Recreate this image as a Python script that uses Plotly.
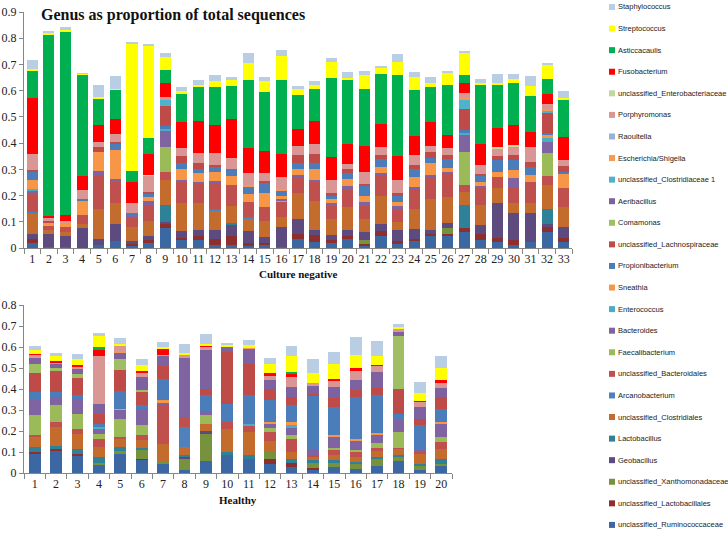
import plotly.graph_objects as go

# ---------------- categories ----------------
cn_labels = [str(i) for i in range(1, 34)]
h_labels = [str(i) for i in range(1, 21)]

# series names (bottom of stack first)
series_names = [
    "unclassified_Ruminococcaceae", "unclassified_Lactobacillales", "unclassified_Xanthomonadaceae",
    "Geobacillus", "Lactobacillus", "unclassified_Clostridiales", "Arcanobacterium",
    "unclassified_Bacteroidales", "Faecalibacterium", "Bacteroides", "Enterococcus", "Sneathia",
    "Propionibacterium", "unclassified_Lachnospiraceae", "Comamonas", "Aeribacillus",
    "unclassified_Clostridiaceae 1", "Escherichia/Shigella", "Raoultella", "Porphyromonas",
    "unclassified_Enterobacteriaceae", "Fusobacterium", "Asticcacaulis", "Streptococcus",
    "Staphylococcus",
]

series_colors = [
    "#3B67A3", "#8E2F2E", "#76923C", "#5D4A7E", "#2F8197", "#C46C2E", "#4F81BD",
    "#C0504D", "#9BBB59", "#8064A2", "#4BACC6", "#F79646", "#4A7DBA", "#BE4B48",
    "#A0BE63", "#7E62A0", "#4FB2CC", "#F59A55", "#95B3D7", "#D99694", "#C3D69B",
    "#FF0000", "#00B050", "#FFFF00", "#B9CDE5",
]

# ---------------- Culture negative (33 samples) ----------------
cn_ruminococcaceae = [.02, .005, .005, 0, .012, .028, .008, .02, .078, .03, .03, .01, .012, .008, .01, .005, .036, .023, .019, .035, .01, .045, .015, .025, .045, .045, .06, .03, .024, .01, .024, .061, .024]
cn_lactobacillales = [.013, 0, 0, 0, 0, 0, .008, .01, .012, .01, .015, .026, .033, .012, .01, 0, .019, .027, .013, .01, .005, .02, .01, .01, .01, .01, .015, .025, .013, .02, 0, .019, .013]
cn_xanthomonadaceae = [0]*20 + [.015] + [0]*4 + [.02] + [0]*7
cn_geobacillus = [.022, .05, .04, .077, .023, .065, .012, .015, .01, .025, .023, .034, .045, .045, .022, .075, .055, .02, .016, .025, .03, .025, .043, .039, .015, .02, 0, .032, .134, .105, .111, .013, .044]
cn_lactobacillus = [0]*8 + [.065] + [0]*3 + [.005] + [0]*13 + [.088] + [0]*4 + [.054, 0]
cn_clostridiales = [.077, .015, .015, .013, .115, .077, .052, .058, .095, .105, .102, .074, .065, .047, .06, .04, .1, .11, .064, .085, .05, .11, .032, .076, .115, .1, .052, .076, .057, .036, .036, .093, .077]
cn_arcanobacterium = [.005] + [0]*10 + [.006, 0, .005] + [0]*19
cn_bacteroidales = [.07, .015, .02, .035, .125, .08, .035, .062, .03, .08, .075, .096, .08, .058, .055, .058, .06, .073, .05, .065, .05, .08, .047, .075, .085, .089, .025, .064, .044, .057, .082, .034, .07]
cn_faecalibacterium = [0]*8 + [.095] + [0]*6 + [.004] + [0]*10 + [.125] + [0]*4 + [.09, 0]
cn_bacteroides = [.013, 0, 0, 0, .017, .012, .008, .013, .06, .01, .005, .009, 0, 0, 0, .005, .01, .007, .008, .015, .015, .005, .013, .008, .008, .006, .065, .01, 0, .038, 0, .042, 0]
cn_enterococcus = [.005] + [0]*7 + [.01] + [0]*17 + [.01] + [0]*4 + [.012, 0]
cn_sneathia = [.035, .01, .01, .055, .073, .11, 0, .02, 0, .04, .035, .035, .035, .03, .053, .013, .02, .04, .015, .03, .025, .025, .015, .039, .045, .015, 0, .013, .019, .031, .026, .013, .057]
cn_propionibacterium = [.03, 0, 0, .005, 0, .023, .01, .007, .01, .025, .015, .02, .025, .028, .036, .02, .025, .025, .015, .02, .035, .03, .025, .03, .019, .033, .01, .025, .045, .039, .031, .009, .005]
cn_lachnospiraceae = [.008, .008, 0, 0, .02, .01, 0, .008, .075, .025, .023, .005, 0, 0, .008, 0, .03, .035, .01, .015, .01, .015, .01, .014, .025, .017, .08, .009, .013, .019, .019, .074, .024]
cn_comamonas = [0]*33
cn_aeribacillus = [0]*33
cn_clostridiaceae1 = [0]*8 + [.025] + [0]*17 + [.036] + [0]*4 + [.012, 0]
cn_escherichia = [0]*13 + [.007, 0, .005] + [0]*10 + [.009] + [0]*4 + [.004, 0]
cn_raoultella = [0]*33
cn_porphyromonas = [.059, .01, .012, .035, .02, .03, .037, .065, .01, .03, .038, .049, .045, .047, .033, .047, .034, .035, .049, .02, .045, .03, .048, .039, .023, .025, .015, .032, .031, .032, .058, .02, .022]
cn_enterobacteriaceae = [0]*7 + [.002] + [0]*20 + [.007, .007] + [0]*3
cn_fusobacterium = [.216, .01, .024, .054, .065, .058, .083, .08, .055, .1, .125, .106, .148, .093, .083, .088, .066, .091, .089, .077, .1, .088, .092, .072, .09, .05, .038, .079, .07, .076, .057, .038, .089]
cn_asticcacaulis = [.105, .693, .7, .386, .102, .112, .042, .06, .048, .108, .129, .144, .125, .261, .225, .28, .127, .119, .3, .243, .216, .192, .31, .176, .135, .19, .032, .229, .165, .16, .134, .057, .14]
cn_streptococcus = [.004, .003, .006, .004, .002, .002, .485, .35, .05, .012, .005, .024, .022, .064, .04, .092, .026, .015, .06, .01, .052, .025, .05, .049, .015, .048, .085, .006, .009, .016, .038, .054, .006]
cn_staphylococcus = [.035, .009, .01, .003, .046, .048, .004, .008, .014, .015, .019, .023, .012, .037, .017, .023, .01, .018, .017, .022, .017, .005, .028, .02, .021, .007, .005, .015, .033, .016, .04, .006, .026]

# ---------------- Healthy (20 samples) ----------------
h_ruminococcaceae = [.092, .108, .084, .041, .095, .064, .045, .013, .056, .084, .068, .045, .029, .016, .029, .021, .032, .056, .016, .032]
h_lactobacillales = [.008, .005, .008, 0, 0, .005, 0, 0, 0, 0, 0, .023, .02, .008, 0, 0, 0, 0, 0, 0]
h_xanthomonadaceae = [0, 0, 0, .008, .008, .039, .01, .055, .132, 0, 0, .032, 0, .028, .023, .024, .036, .02, .021, .013]
h_geobacillus = [0, 0, 0, 0, 0, 0, 0, .012, .011, 0, 0, 0, 0, 0, 0, 0, 0, 0, 0, 0]
h_lactobacillus = [.024, .017, .024, .025, .022, .012, 0, .008, 0, .016, .019, 0, .019, .008, .008, .008, .008, .011, .008, .023]
h_clostridiales = [.048, .09, .072, .05, .04, .036, .085, .035, .036, .111, .109, .051, .032, .016, .024, .023, .027, .029, .05, .048]
h_arcanobacterium = [0, 0, 0, 0, 0, 0, 0, .097, 0, 0, 0, 0, 0, 0, 0, 0, 0, 0, 0, 0]
h_bacteroidales = [.008, .023, .023, .04, .007, .024, .183, .04, 0, .032, .031, .045, .064, .01, .024, .024, .016, .005, .005, .032]
h_faecalibacterium = [.095, .08, .072, .024, .083, .047, 0, 0, .04, 0, 0, .016, .016, 0, .012, .008, .025, .075, 0, .024]
h_bacteroides = [.072, .04, .064, .022, .045, .08, .015, .29, .019, 0, 0, .023, .039, .03, .052, .048, .036, .055, .008, .059]
h_enterococcus = [0, 0, 0, .01, 0, 0, 0, 0, 0, 0, .008, 0, .008, 0, 0, 0, 0, 0, 0, 0]
h_sneathia = [0, 0, 0, 0, .005, 0, .008, 0, 0, 0, 0, .008, .016, 0, .008, .008, .01, 0, 0, .012]
h_propionibacterium = [.039, .023, .023, .012, .087, .016, .104, 0, .076, .087, .135, .104, .083, .254, .135, .198, .18, .032, .122, .061]
h_lachnospiraceae = [.088, .104, .082, .05, .098, .067, .06, 0, .032, .247, .151, .055, .036, .008, .04, .032, .035, .116, .029, .058]
h_comamonas = [.047, .008, .018, 0, .055, .005, 0, 0, 0, 0, 0, 0, 0, 0, 0, 0, 0, .254, 0, 0]
h_aeribacillus = [.027, .022, .025, .048, .03, .063, .048, 0, .183, .023, .072, .04, .048, .04, .055, .048, .074, .023, .053, .043]
h_clostridiaceae1 = [0]*20
h_escherichia = [.005, 0, 0, 0, .004, 0, .005, 0, 0, 0, .004, 0, 0, .005, 0, 0, 0, 0, 0, 0]
h_raoultella = [0]*20
h_porphyromonas = [.01, .008, .01, .228, .025, .021, 0, .012, .016, 0, 0, .024, .048, .006, .032, .043, .031, .008, .027, .024]
h_enterobacteriaceae = [0]*20
h_fusobacterium = [.003, .005, .007, .032, 0, .007, .03, 0, .005, 0, 0, .008, .016, 0, .008, .016, .005, 0, .005, .016]
h_asticcacaulis = [0, 0, 0, .009, 0, 0, 0, 0, 0, 0, 0, 0, .008, 0, 0, 0, 0, 0, 0, 0]
h_streptococcus = [.018, .025, .03, .052, .012, .027, .005, .008, .008, .008, .012, .047, .074, .045, .071, .06, .043, .012, .039, .053]
h_staphylococcus = [.02, .014, .025, .016, .026, .032, .027, .045, .046, .01, .024, .028, .048, .068, .056, .088, .07, .013, .051, .058]

cn_series = [cn_ruminococcaceae, cn_lactobacillales, cn_xanthomonadaceae, cn_geobacillus, cn_lactobacillus,
             cn_clostridiales, cn_arcanobacterium, cn_bacteroidales, cn_faecalibacterium, cn_bacteroides,
             cn_enterococcus, cn_sneathia, cn_propionibacterium, cn_lachnospiraceae, cn_comamonas,
             cn_aeribacillus, cn_clostridiaceae1, cn_escherichia, cn_raoultella, cn_porphyromonas,
             cn_enterobacteriaceae, cn_fusobacterium, cn_asticcacaulis, cn_streptococcus, cn_staphylococcus]
h_series = [h_ruminococcaceae, h_lactobacillales, h_xanthomonadaceae, h_geobacillus, h_lactobacillus,
            h_clostridiales, h_arcanobacterium, h_bacteroidales, h_faecalibacterium, h_bacteroides,
            h_enterococcus, h_sneathia, h_propionibacterium, h_lachnospiraceae, h_comamonas,
            h_aeribacillus, h_clostridiaceae1, h_escherichia, h_raoultella, h_porphyromonas,
            h_enterobacteriaceae, h_fusobacterium, h_asticcacaulis, h_streptococcus, h_staphylococcus]

y_ticks_top = [0, 0.1, 0.2, 0.3, 0.4, 0.5, 0.6, 0.7, 0.8, 0.9]
y_ticks_bottom = [0, 0.1, 0.2, 0.3, 0.4, 0.5, 0.6, 0.7, 0.8]

# ---------------- layout geometry (pixels) ----------------
W, H = 728, 542
ML, MR, MT, MB = 24, 0, 12, 69
PW, PH = W - ML - MR, H - MT - MB


def px_x(px):
    return (px - ML) / PW


def px_y(py):
    return (H - MB - py) / PH


fig = go.Figure()
for name, color, vals in zip(series_names, series_colors, cn_series):
    fig.add_trace(go.Bar(x=cn_labels, y=vals, name=name, marker_color=color, marker_line_width=0,
                         width=0.67, showlegend=False, xaxis="x", yaxis="y"))
for name, color, vals in zip(series_names, series_colors, h_series):
    fig.add_trace(go.Bar(x=h_labels, y=vals, name=name, marker_color=color, marker_line_width=0,
                         width=0.55, showlegend=False, xaxis="x2", yaxis="y2"))

serif = "Liberation Serif, Times New Roman, serif"
axis_common = dict(showline=True, linecolor="#868686", linewidth=1, ticks="outside",
                   tickcolor="#868686", showgrid=False, zeroline=False, automargin=False,
                   tickfont=dict(family=serif, size=12, color="#222"))

# legend drawn as swatches + real text, top entry = top of stack
annotations = []
shapes = []
legend_font = dict(family="Liberation Sans, Arial, sans-serif", size=7.5, color="#222")
for i, (name, color) in enumerate(zip(series_names[::-1], series_colors[::-1])):
    yc = 7 + i * 21.58
    shapes.append(dict(type="rect", xref="paper", yref="paper",
                       x0=px_x(609), x1=px_x(615), y0=px_y(yc + 3), y1=px_y(yc - 3),
                       fillcolor=color, line=dict(width=0), layer="above"))
    annotations.append(dict(text=name, xref="paper", yref="paper", x=px_x(616), y=px_y(yc),
                            xanchor="left", yanchor="middle", showarrow=False, font=legend_font))

annotations += [
    dict(text="<b>Genus as proportion of total sequences</b>", xref="paper", yref="paper",
         x=px_x(39), y=px_y(15), xanchor="left", yanchor="middle", showarrow=False,
         font=dict(family=serif, size=16, color="#111")),
    dict(text="<b>Culture negative</b>", xref="paper", yref="paper",
         x=px_x(298), y=px_y(274), xanchor="center", yanchor="middle", showarrow=False,
         font=dict(family=serif, size=11, color="#111")),
    dict(text="<b>Healthy</b>", xref="paper", yref="paper",
         x=px_x(238), y=px_y(500), xanchor="center", yanchor="middle", showarrow=False,
         font=dict(family=serif, size=11, color="#111")),
]

fig.update_layout(
    width=W, height=H,
    margin=dict(l=ML, r=MR, t=MT, b=MB, autoexpand=False),
    plot_bgcolor="white", paper_bgcolor="white",
    barmode="stack", showlegend=False,
    xaxis=dict(domain=[0, 548 / PW], type="category", tickson="boundaries", anchor="y",
               tickangle=0, ticklen=5, **axis_common),
    yaxis=dict(domain=[px_y(248), 1], range=[0, 0.9], tickvals=y_ticks_top, anchor="x",
               ticklen=4, **axis_common),
    xaxis2=dict(domain=[0, 428 / PW], type="category", tickson="boundaries", anchor="y2",
                tickangle=0, ticklen=5, **axis_common),
    yaxis2=dict(domain=[0, px_y(305)], range=[0, 0.8], tickvals=y_ticks_bottom, anchor="x2",
                ticklen=4, **axis_common),
    annotations=annotations,
    shapes=shapes,
)

# remove the browser's default page margin so the 728x542 figure fills the window exactly
fig.write_html("out.html", config={"displayModeBar": False},
               post_script="document.body.style.margin='0';document.body.style.overflow='hidden';")
